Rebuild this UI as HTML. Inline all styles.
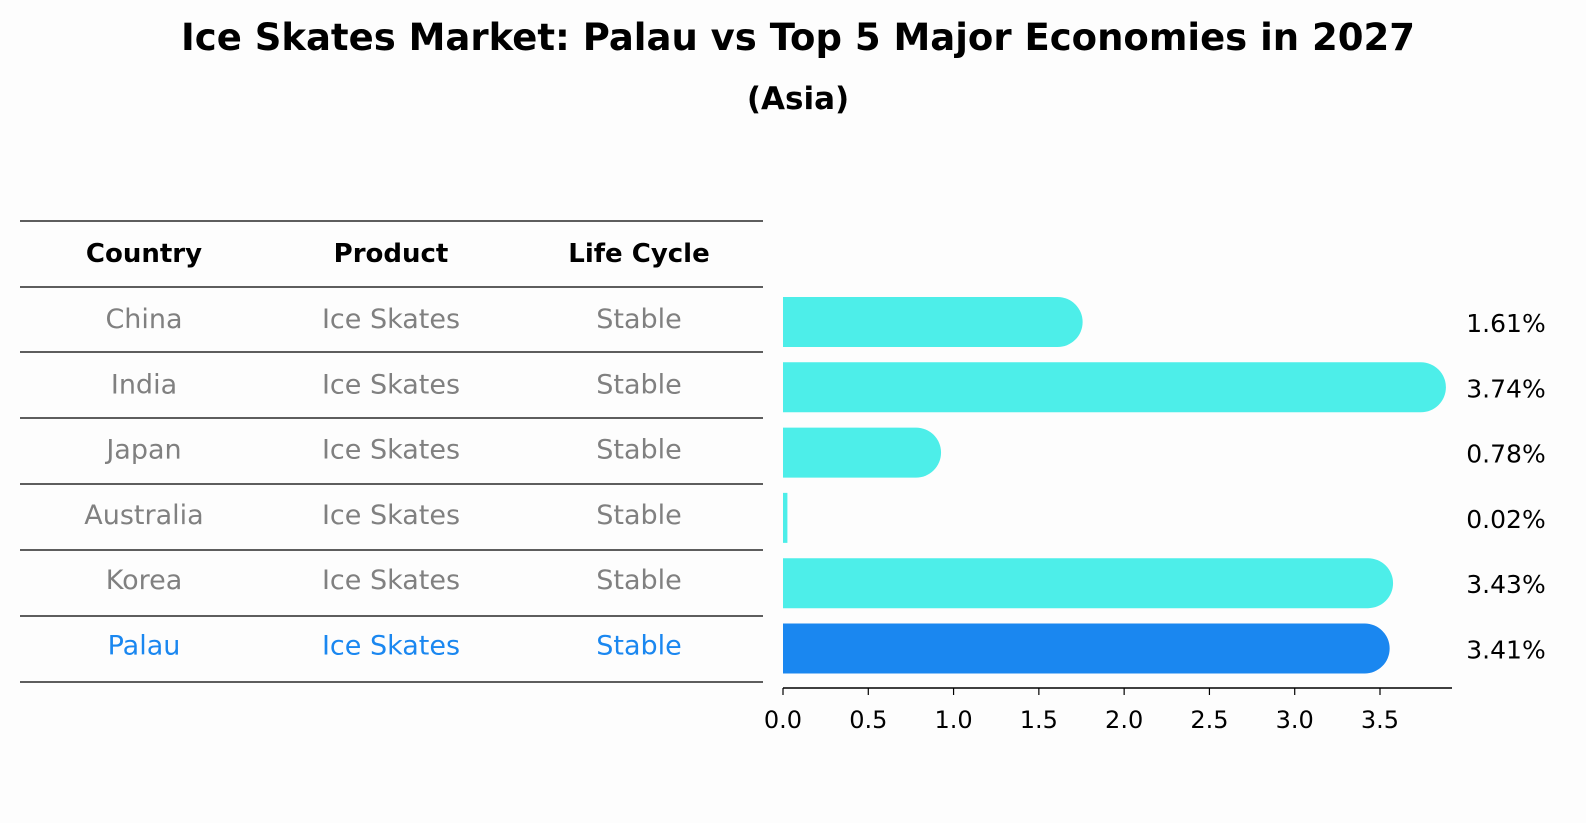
<!DOCTYPE html>
<html><head><meta charset="utf-8"><style>
html,body{margin:0;padding:0;overflow:hidden;background:#fdfdfd;font-family:"Liberation Sans","DejaVu Sans",sans-serif}
svg{display:block}
</style></head><body>
<svg id="c" width="1586" height="823" xmlns="http://www.w3.org/2000/svg">
<rect width="1586" height="823" fill="#fdfdfd"/>
<text x="798" y="50" text-anchor="middle" font-size="37" font-weight="bold" font-family="DejaVu Sans, sans-serif">Ice Skates Market: Palau vs Top 5 Major Economies in 2027</text>
<text x="798" y="109" text-anchor="middle" font-size="31" font-weight="bold" font-family="DejaVu Sans, sans-serif">(Asia)</text>
<g id="table"></g>
<g id="bars"></g>
</svg>
<script>
const countries=["China","India","Japan","Australia","Korea","Palau"];
const products=["Ice Skates","Ice Skates","Ice Skates","Ice Skates","Ice Skates","Ice Skates"];
const cycles=["Stable","Stable","Stable","Stable","Stable","Stable"];
const values=[1.61,3.74,0.78,0.02,3.43,3.41];
const ticks=[0,0.5,1,1.5,2,2.5,3,3.5];
const NS="http://www.w3.org/2000/svg";
function mk(t,a,p){const e=document.createElementNS(NS,t);for(const k in a)e.setAttribute(k,a[k]);p.appendChild(e);return e;}
const X0=783,SC=597/3.5;const xs=v=>X0+v*SC;
const rowY=i=>320+i*65.3;
const tb=document.getElementById('table'),bg=document.getElementById('bars');
const ff="DejaVu Sans, sans-serif";
const lines=[221,287,352,418,484,550,616,682];
lines.forEach((y,i)=>{const l=mk('line',{x1:20,x2:763,y1:y,y2:y,stroke:'#000','stroke-width':1.2},tb);

});
const colX=[144,391,639];
["Country","Product","Life Cycle"].forEach((h,j)=>{const t=mk('text',{x:colX[j],y:262,'text-anchor':'middle','font-size':26,'font-weight':'bold','font-family':ff},tb);t.textContent=h;

});
countries.forEach((c,i)=>{const col=i===countries.length-1?'#1a87f0':'#808080';
[c,products[i],cycles[i]].forEach((v,j)=>{const t=mk('text',{x:colX[j],y:rowY(i)+8,'text-anchor':'middle','font-size':27,fill:col,'font-family':ff},tb);t.textContent=v;

});});
values.forEach((v,i)=>{const col=i===values.length-1?'#1a87f0':'#4deee9';const yc=rowY(i)+2,h=50,r=25;
const x1=xs(v);let d;
if(x1-X0<8){d=`M${X0} ${yc-h/2}H${x1+1}V${yc+h/2}H${X0}Z`;}
else d=`M${X0} ${yc-h/2}H${x1}A${r} ${r} 0 0 1 ${x1} ${yc+h/2}H${X0}Z`;
const p=mk('path',{d:d,fill:col},bg);


const t=mk('text',{x:1506,y:yc+10,'text-anchor':'middle','font-size':25,'font-family':ff},bg);t.textContent=v.toFixed(2)+'%';

});
const ax=mk('line',{x1:X0,x2:1452,y1:688,y2:688,stroke:'#000','stroke-width':1.5},bg);


ticks.forEach(tk=>{const l=mk('line',{x1:xs(tk),x2:xs(tk),y1:688,y2:695,stroke:'#000','stroke-width':1.2},bg);


const t=mk('text',{x:xs(tk),y:728,'text-anchor':'middle','font-size':24,'font-family':ff},bg);t.textContent=tk.toFixed(1);

});
</script>
</body></html>
